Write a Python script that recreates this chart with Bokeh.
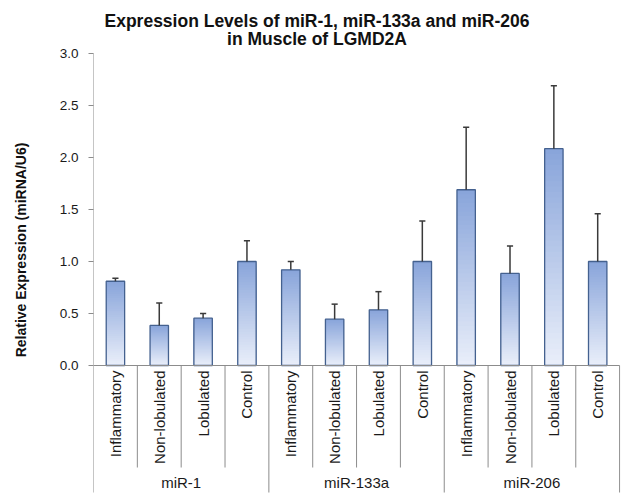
import numpy as np
from bokeh.plotting import figure
from bokeh.models import Range1d, FixedTicker
from bokeh.core.properties import value
from bokeh.embed import file_html
from bokeh.resources import INLINE

# ---------------- data ----------------
groups = ["miR-1", "miR-133a", "miR-206"]
conditions = ["Inflammatory", "Non-lobulated", "Lobulated", "Control"]
mir1_mean = [0.81, 0.385, 0.455, 1.00]
mir1_err = [0.03, 0.215, 0.045, 0.20]
mir133a_mean = [0.92, 0.445, 0.535, 1.00]
mir133a_err = [0.08, 0.145, 0.175, 0.39]
mir206_mean = [1.69, 0.885, 2.085, 1.00]
mir206_err = [0.60, 0.265, 0.605, 0.46]
y_ticks = [0.0, 0.5, 1.0, 1.5, 2.0, 2.5, 3.0]
y_tick_labels = ["0.0", "0.5", "1.0", "1.5", "2.0", "2.5", "3.0"]
title_lines = ["Expression Levels of miR-1, miR-133a and miR-206",
               "in Muscle of LGMD2A"]
y_label = "Relative Expression (miRNA/U6)"

means = mir1_mean + mir133a_mean + mir206_mean
errs = mir1_err + mir133a_err + mir206_err
labels = conditions * len(groups)
n = len(means)
xc = [i + 0.5 for i in range(n)]

# ---------------- layout ----------------
W, H = 627, 499
LEFT = 93
RIGHT_BORDER = 7
PX_PER_UNIT = 104.0
ZERO_Y = 365.0  # canvas px of y=0
y_top = ZERO_Y / PX_PER_UNIT
y_bot = -(H - ZERO_Y) / PX_PER_UNIT
x_end = n + 0.02
px_x = (W - RIGHT_BORDER - LEFT) / x_end

def ypx(py):
    return (ZERO_Y - py) / PX_PER_UNIT

FONT = "Liberation Sans"
AXIS_COL = "#8c8c8c"

p = figure(width=W, height=H, output_backend="svg", toolbar_location=None,
           x_range=Range1d(0, x_end), y_range=Range1d(y_bot, y_top),
           x_axis_location=None, min_border_left=LEFT,
           min_border_right=RIGHT_BORDER, min_border_top=0, min_border_bottom=0)
p.outline_line_color = None
p.grid.visible = False
p.background_fill_color = "white"

yax = p.yaxis[0]
yax.ticker = FixedTicker(ticks=y_ticks)
yax.major_label_overrides = {t: l for t, l in zip(y_ticks, y_tick_labels)}
yax.axis_line_color = None
yax.major_tick_line_color = AXIS_COL
yax.major_tick_out = 5
yax.major_tick_in = 0
yax.minor_tick_line_color = None
yax.major_label_standoff = 10
yax.major_label_text_font = FONT
yax.major_label_text_font_size = "13.5px"
yax.major_label_text_color = "#1a1a1a"
yax.axis_label = y_label
yax.axis_label_text_font = FONT
yax.axis_label_text_font_style = "bold"
yax.axis_label_text_font_size = "14px"
yax.axis_label_text_color = "#111111"
yax.axis_label_standoff = 28

# ---------------- gradient bars ----------------
N = 40
top_rgb = np.array([136, 164, 218])
bot_rgb = np.array([234, 239, 250])
sx, st, sc = [], [], []
for j in range(N):
    frac = (N - j) / N
    t = (N - j - 0.5) / N
    c = bot_rgb + (top_rgb - bot_rgb) * t
    col = "#%02x%02x%02x" % tuple(int(round(k)) for k in c)
    for x, v in zip(xc, means):
        sx.append(x)
        st.append(v * frac)
        sc.append(col)
p.vbar(x=sx, bottom=0, top=st, width=0.42, fill_color=sc, line_color=None)
p.vbar(x=xc, bottom=0, top=means, width=0.42, fill_color=None,
       line_color="#44618f", line_width=1.3)

# ---------------- error bars (upper only) ----------------
upper = [m + e for m, e in zip(means, errs)]
p.segment(x0=xc, y0=means, x1=xc, y1=upper, line_color="#3a3a3a", line_width=1.5)
cap = 0.07
p.segment(x0=[x - cap for x in xc], y0=upper, x1=[x + cap for x in xc], y1=upper,
          line_color="#3a3a3a", line_width=1.5)

# ---------------- axes / separators ----------------
sep_y = ypx(467.0)
grp_bot = ypx(492.0)
p.segment(x0=[0], y0=[0], x1=[n], y1=[0], line_color=AXIS_COL, line_width=1)
p.segment(x0=[0], y0=[grp_bot], x1=[0], y1=[3.0], line_color=AXIS_COL, line_width=1)
cat_sep = [i for i in range(1, n) if i % len(conditions) != 0]
p.segment(x0=cat_sep, y0=0, x1=cat_sep, y1=sep_y, line_color=AXIS_COL, line_width=1)
grp_sep = [i * len(conditions) for i in range(1, len(groups) + 1)]
p.segment(x0=grp_sep, y0=0, x1=grp_sep, y1=grp_bot, line_color=AXIS_COL, line_width=1)

# category labels (rotated)
p.text(x=xc, y=ypx(370.0), text=labels, angle=np.pi / 2, text_align="right",
       text_baseline="middle", text_font=value(FONT), text_font_size="15px",
       text_color="#1a1a1a")

# group labels
gx = [i * len(conditions) + len(conditions) / 2 for i in range(len(groups))]
p.text(x=gx, y=ypx(482.0), text=groups, text_align="center", text_baseline="middle",
       text_font=value(FONT), text_font_size="15px", text_color="#1a1a1a")

# title
tx = (316.5 - LEFT) / px_x
ty = [ypx(20.0), ypx(38.3)]
p.text(x=[tx, tx], y=ty, text=title_lines, text_align="center",
       text_baseline="alphabetic", text_font=value(FONT), text_font_size="17.5px",
       text_font_style="bold", text_color="#111111")

open("out.html", "w").write(file_html(p, INLINE))
